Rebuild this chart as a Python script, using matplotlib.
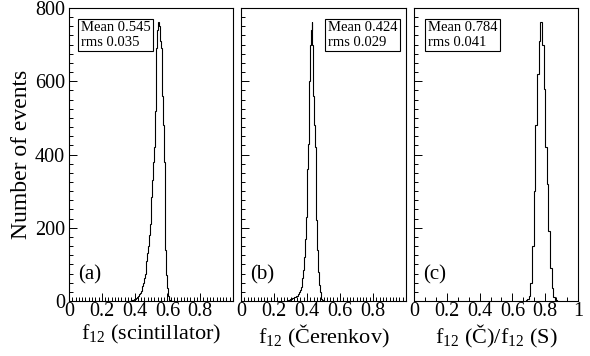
import numpy as np
import matplotlib
matplotlib.use("Agg")
import matplotlib.pyplot as plt
from matplotlib.ticker import MultipleLocator, FixedLocator

plt.rcParams['font.family'] = ['Liberation Serif', 'DejaVu Serif']
plt.rcParams['mathtext.fontset'] = 'custom'
plt.rcParams['mathtext.rm'] = 'Liberation Serif'
plt.rcParams['mathtext.it'] = 'Liberation Serif:italic'

# ---- data (bin centres and counts) ----
centers_a = [0.380, 0.385, 0.390, 0.395, 0.400, 0.405, 0.410, 0.415, 0.420, 0.425,
             0.430, 0.435, 0.440, 0.445, 0.450, 0.455, 0.460, 0.465, 0.470, 0.475,
             0.480, 0.485, 0.490, 0.495, 0.500, 0.505, 0.510, 0.515, 0.520, 0.525,
             0.530, 0.535, 0.540, 0.545, 0.550, 0.555, 0.560, 0.565, 0.570, 0.575,
             0.580, 0.585, 0.590, 0.595, 0.600, 0.605, 0.610, 0.615, 0.620, 0.625]
counts_a = [2, 2, 3, 3, 5, 6, 8, 10, 12, 15,
            18, 22, 27, 32, 40, 50, 62, 75, 92, 110,
            130, 150, 180, 210, 240, 285, 330, 380, 420, 520,
            620, 690, 740, 762, 750, 745, 710, 690, 560, 480,
            380, 230, 140, 70, 35, 15, 8, 4, 2, 1]

centers_b = [0.280, 0.285, 0.290, 0.295, 0.300, 0.305, 0.310, 0.315, 0.320, 0.325,
             0.330, 0.335, 0.340, 0.345, 0.350, 0.355, 0.360, 0.365, 0.370, 0.375,
             0.380, 0.385, 0.390, 0.395, 0.400, 0.405, 0.410, 0.415, 0.420, 0.425,
             0.430, 0.435, 0.440, 0.445, 0.450, 0.455, 0.460, 0.465, 0.470, 0.475,
             0.480, 0.485, 0.490, 0.495, 0.500]
counts_b = [1, 2, 3, 4, 5, 6, 7, 8, 9, 10,
            11, 13, 15, 17, 20, 24, 30, 38, 50, 62,
            85, 120, 170, 230, 300, 360, 430, 600, 700, 740,
            762, 700, 560, 480, 420, 330, 220, 140, 80, 45,
            25, 10, 5, 2, 1]

centers_c = [0.685, 0.695, 0.705, 0.715, 0.725, 0.735, 0.745, 0.755, 0.765, 0.775,
             0.785, 0.795, 0.805, 0.815, 0.825, 0.835, 0.845, 0.855, 0.865, 0.875]
counts_c = [2, 5, 15, 50, 150, 300, 480, 620, 710, 762,
            700, 580, 420, 320, 190, 90, 35, 12, 4, 1]

means = ["0.545", "0.424", "0.784"]
rmss = ["0.035", "0.029", "0.041"]
panel_tags = ["(a)", "(b)", "(c)"]
xlabels = [r"f$_{12}$ (scintillator)", r"f$_{12}$ (Čerenkov)",
           r"f$_{12}$ (Č)/f$_{12}$ (S)"]
ylabel = "Number of events"
xtick_vals = [0, 0.2, 0.4, 0.6, 0.8, 1.0]
xtick_labels = ["0", "0.2", "0.4", "0.6", "0.8", "1"]
ytick_vals = [0, 200, 400, 600, 800]

fig = plt.figure(figsize=(5.90, 3.56), dpi=100)
W, H = 590, 356
boxes = [(69, 233), (241, 406), (414, 578)]
top_px, bot_px = 8, 301
stat_x = [0.061, 0.515, 0.073]

data = [(centers_a, counts_a), (centers_b, counts_b), (centers_c, counts_c)]

for i, ((l, r), (cen, cnt)) in enumerate(zip(boxes, data)):
    ax = fig.add_axes([l / W, (H - bot_px) / H, (r - l) / W, (bot_px - top_px) / H])
    cen = np.asarray(cen)
    w = cen[1] - cen[0]
    edges = np.append(cen - w / 2, cen[-1] + w / 2)
    ax.stairs(cnt, edges, color='black', lw=0.8)
    ax.set_xlim(0, 1)
    ax.set_ylim(0, 800)
    ax.xaxis.set_major_locator(FixedLocator(xtick_vals))
    if i < 2:
        ax.set_xticklabels(xtick_labels[:-1] + [""])
        ax.xaxis.set_minor_locator(MultipleLocator(0.02))
    else:
        ax.set_xticklabels(xtick_labels)
        ax.xaxis.set_minor_locator(MultipleLocator(0.2 / 3))
    ax.yaxis.set_major_locator(FixedLocator(ytick_vals))
    ax.yaxis.set_minor_locator(MultipleLocator(25))
    if i == 0:
        ax.set_yticklabels([str(v) for v in ytick_vals])
        ax.set_ylabel(ylabel, fontsize=17, labelpad=2)
    else:
        ax.set_yticklabels([])
    ax.tick_params(which='both', direction='in', top=False, right=False,
                   labelsize=14.5, width=0.7)
    ax.tick_params(axis='x', pad=1)
    ax.tick_params(axis='y', pad=3)
    ax.tick_params(which='major', length=6)
    ax.tick_params(which='minor', length=3)
    for s in ax.spines.values():
        s.set_linewidth(0.8)
    ax.set_xlabel(xlabels[i], fontsize=16, labelpad=1)
    ax.text(stat_x[i] + 0.012, 0.955, "Mean %s\nrms %s" % (means[i], rmss[i]),
            transform=ax.transAxes, ha='left', va='top', fontsize=10.5,
            linespacing=1.15,
            bbox=dict(boxstyle='square,pad=0.18', fc='white', ec='black', lw=0.8))
    ax.text(0.055, 0.09, panel_tags[i], transform=ax.transAxes,
            ha='left', va='center', fontsize=15)

fig.savefig("out.png", dpi=100)
